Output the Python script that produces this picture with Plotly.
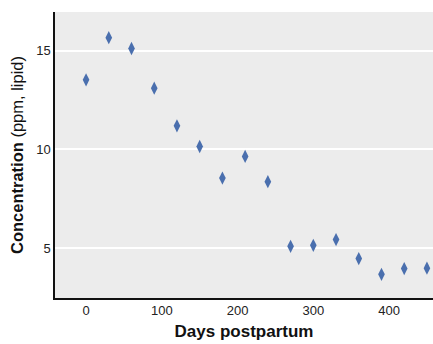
import plotly.graph_objects as go

days = [0, 30, 60, 90, 120, 150, 180, 210, 240, 270, 300, 330, 360, 390, 420, 450]
concentration = [13.53, 15.67, 15.12, 13.11, 11.2, 10.15, 8.55, 9.65, 8.37,
                 5.09, 5.14, 5.43, 4.47, 3.67, 3.96, 3.98]
x_ticks = [0, 100, 200, 300, 400]
y_ticks = [5, 10, 15]

FONT = "Liberation Sans, Arial, sans-serif"

fig = go.Figure(go.Scatter(
    x=days, y=concentration, mode="markers",
    marker=dict(symbol="diamond-tall", size=9.5, color="#4a6fae", line=dict(width=0)),
))

fig.update_layout(
    width=433, height=344,
    margin=dict(l=55, r=0, t=12, b=46),
    paper_bgcolor="white", plot_bgcolor="#ececec",
    font=dict(family=FONT, size=12, color="#222"),
    showlegend=False,
    xaxis=dict(
        range=[-41, 458], tickvals=x_ticks, showgrid=False, zeroline=False,
        showline=True, linecolor="#111", linewidth=1.5, ticks="",
        tickfont=dict(size=13, family=FONT, color="#222"),
        title=dict(text="<b>Days postpartum</b>", font=dict(size=17, family=FONT, color="#111"), standoff=8),
    ),
    yaxis=dict(
        range=[2.47, 16.97], tickvals=y_ticks, showgrid=True, gridcolor="white", gridwidth=1.5,
        zeroline=False, showline=True, linecolor="#111", linewidth=1.5, ticks="",
        tickfont=dict(size=13, family=FONT, color="#222"),
        title=dict(text="<b>Concentration</b> (ppm, lipid)", font=dict(size=16.5, family=FONT, color="#111"), standoff=8),
    ),
)

fig.write_html("out.html")
